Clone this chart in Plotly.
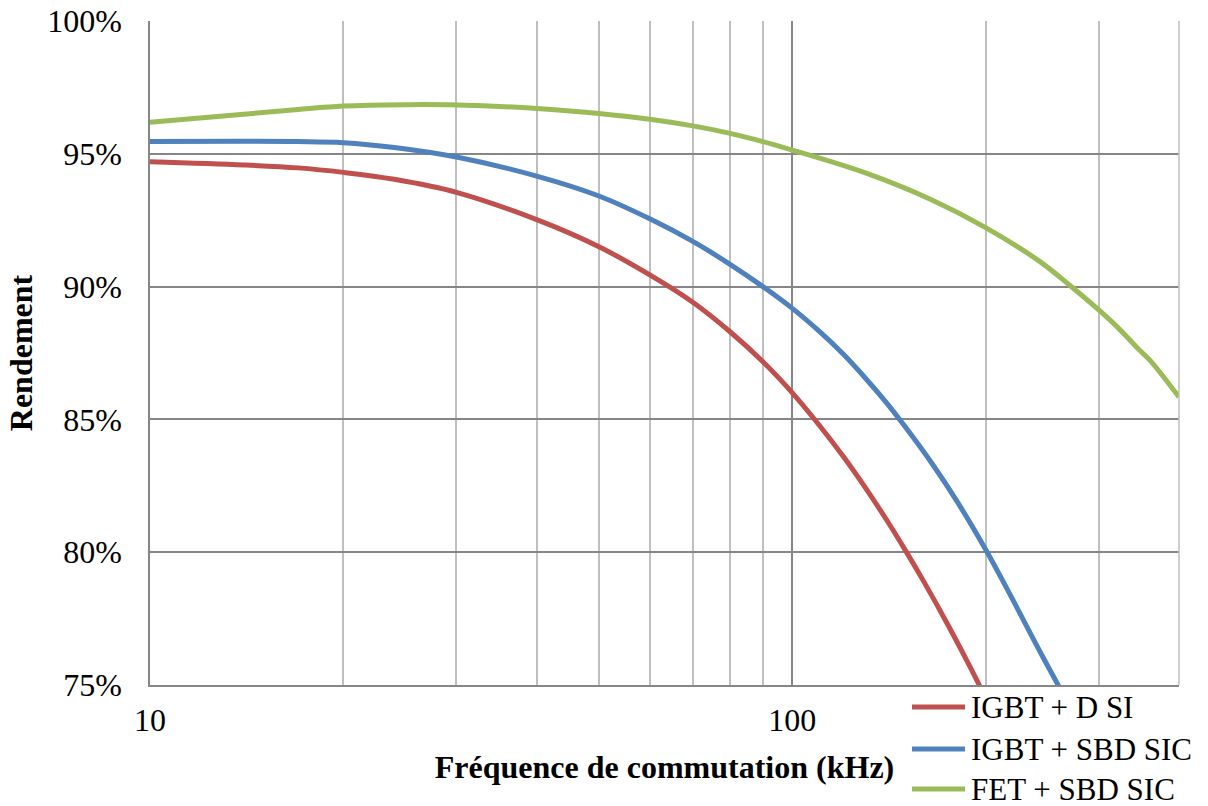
import math
import plotly.graph_objects as go

# Switching frequency (kHz) and efficiency (%) for each converter configuration
freq_igbt_d_si = [10, 14, 17, 20, 24, 30, 40, 50, 60, 70, 80, 90, 100, 110, 120, 130, 140, 150, 160,
                  175, 190, 200]
eff_igbt_d_si = [94.70, 94.58, 94.47, 94.30, 94.04, 93.55, 92.52, 91.50, 90.44, 89.41, 88.30, 87.17,
                 86.00, 84.80, 83.61, 82.42, 81.24, 80.07, 78.92, 77.23, 75.59, 74.51]

freq_igbt_sbd_sic = [10, 14, 17, 20, 24, 30, 40, 50, 60, 70, 80, 90, 100, 110, 120, 130, 140, 150, 165,
                     180, 200, 220, 240, 260, 270]
eff_igbt_sbd_sic = [95.46, 95.47, 95.46, 95.42, 95.24, 94.88, 94.16, 93.41, 92.55, 91.70, 90.84, 90.00,
                    89.18, 88.33, 87.46, 86.55, 85.64, 84.71, 83.34, 81.96, 80.10, 78.25, 76.50, 74.95,
                    74.20]

freq_fet_sbd_sic = [10, 14, 17, 20, 25, 30, 40, 50, 60, 70, 80, 90, 100, 130, 165, 200, 243, 270, 300,
                    323, 347, 360, 400]
eff_fet_sbd_sic = [96.19, 96.49, 96.67, 96.80, 96.85, 96.84, 96.71, 96.52, 96.30, 96.05, 95.77, 95.46,
                   95.14, 94.28, 93.26, 92.22, 90.94, 90.06, 89.12, 88.40, 87.61, 87.24, 85.84]

series_names = ["IGBT + D SI", "IGBT + SBD SIC", "FET + SBD SIC"]
series_colors = ["#C0504D", "#4F81BD", "#9BBB59"]
series_freqs = [freq_igbt_d_si, freq_igbt_sbd_sic, freq_fet_sbd_sic]
series_effs = [eff_igbt_d_si, eff_igbt_sbd_sic, eff_fet_sbd_sic]

y_ticks = [75, 80, 85, 90, 95, 100]
x_ticks = [10, 100]
x_minor = [20, 30, 40, 50, 60, 70, 80, 90, 200, 300]

FONT = "Liberation Serif, Times New Roman, serif"
MAJOR_GRID = "#868686"
MINOR_GRID = "#BFBFBF"

fig = go.Figure()
for name, color, fx, fy in zip(series_names, series_colors, series_freqs, series_effs):
    fig.add_trace(go.Scatter(
        x=fx, y=fy, name=name, mode="lines",
        line=dict(color=color, width=5, shape="spline", smoothing=1.0),
        showlegend=False, cliponaxis=True,
    ))

W, H = 1208, 806
L, R, T, B = 150, 29, 21, 121
plot_w, plot_h = W - L - R, H - T - B


def px_to_paper(px, py):
    return (px - L) / plot_w, (H - B - py) / plot_h


# Legend drawn below the right part of the plot
shapes = []
annotations = []
legend_rows = [707, 749, 789]
for name, color, row in zip(series_names, series_colors, legend_rows):
    x0, y0 = px_to_paper(912, row)
    x1, _ = px_to_paper(965, row)
    shapes.append(dict(type="line", xref="paper", yref="paper", x0=x0, x1=x1, y0=y0, y1=y0,
                       line=dict(color=color, width=5)))
    tx, ty = px_to_paper(969, row)
    annotations.append(dict(xref="paper", yref="paper", x=tx, y=ty, xanchor="left", yanchor="middle",
                            text=name, showarrow=False, font=dict(family=FONT, size=31, color="black")))

# Right border of the plot area
shapes.append(dict(type="line", xref="paper", yref="paper", x0=1, x1=1, y0=0, y1=1,
                   line=dict(color=MINOR_GRID, width=1.5)))

fig.update_layout(
    width=W, height=H,
    margin=dict(l=L, r=R, t=T, b=B, autoexpand=False),
    paper_bgcolor="white", plot_bgcolor="white",
    font=dict(family=FONT, size=32, color="black"),
    shapes=shapes, annotations=annotations,
    showlegend=False,
    xaxis=dict(
        type="log", range=[1, math.log10(400)],
        tickmode="array", tickvals=x_ticks, ticktext=[str(v) for v in x_ticks],
        ticks="", ticklabelstandoff=6, automargin=False,
        showgrid=True, gridcolor=MAJOR_GRID, gridwidth=1.5,
        minor=dict(tickmode="array", tickvals=x_minor, showgrid=True, gridcolor=MINOR_GRID,
                   gridwidth=1.5, ticks=""),
        showline=True, linecolor=MAJOR_GRID, linewidth=1.5,
        zeroline=False,
        title=dict(text="<b>Fréquence de commutation (kHz)</b>", standoff=18,
                   font=dict(family=FONT, size=32, color="black")),
    ),
    yaxis=dict(
        range=[75, 100],
        tickmode="array", tickvals=y_ticks, ticktext=[f"{v}%" for v in y_ticks],
        ticks="", ticklabelstandoff=20, automargin=False,
        showgrid=True, gridcolor=MAJOR_GRID, gridwidth=1.5,
        showline=True, linecolor=MAJOR_GRID, linewidth=1.5,
        zeroline=False,
        title=dict(text="<b>Rendement</b>", standoff=5,
                   font=dict(family=FONT, size=32, color="black")),
    ),
)

fig.write_html("out.html")
